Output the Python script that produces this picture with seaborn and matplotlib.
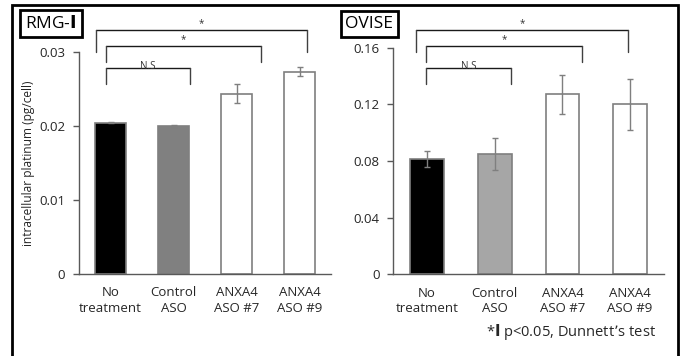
import matplotlib
matplotlib.use("Agg")
import matplotlib.pyplot as plt
import seaborn as sns
import pandas as pd
from matplotlib.patches import Rectangle

sns.set_theme(style="white")
plt.rcParams['font.family'] = ['Open Sans', 'DejaVu Sans']
plt.rcParams['mathtext.fontset'] = 'dejavusans'

categories = ["No\ntreatment", "Control\nASO", "ANXA4\nASO #7", "ANXA4\nASO #9"]
rmg_values = [0.0205, 0.0200, 0.0244, 0.0274]
rmg_errors = [0.0001, 0.0001, 0.00125, 0.0006]
ovise_values = [0.0814, 0.0850, 0.1270, 0.1200]
ovise_errors = [0.0054, 0.0115, 0.0138, 0.0178]
rmg_colors = ["#000000", "#808080", "#ffffff", "#ffffff"]
ovise_colors = ["#000000", "#a6a6a6", "#ffffff", "#ffffff"]
rmg_ticks = [0, 0.01, 0.02, 0.03]
rmg_ticklabels = ["0", "0.01", "0.02", "0.03"]
ovise_ticks = [0, 0.04, 0.08, 0.12, 0.16]
ovise_ticklabels = ["0", "0.04", "0.08", "0.12", "0.16"]
# brackets: (x_left, x_right, y_bar, y_leg_end, label)
rmg_brackets = [(-0.225, 3.12, 0.03298, 0.03008, "*"),
                (-0.07, 2.39, 0.03085, 0.02873, "*"),
                (-0.07, 1.26, 0.02783, 0.02567, "N.S")]
ovise_brackets = [(-0.16, 2.97, 0.1723, 0.1568, "*"),
                  (-0.01, 2.29, 0.1612, 0.1501, "*"),
                  (-0.01, 1.24, 0.1455, 0.1342, "N.S")]

W, H = 688, 356
fig = plt.figure(figsize=(W / 100, H / 100), dpi=100)


def px_axes(x0, y0, x1, y1):
    return fig.add_axes([x0 / W, 1 - y1 / H, (x1 - x0) / W, (y1 - y0) / H])


ax1 = px_axes(79, 52.3, 331, 274)
ax2 = px_axes(393.3, 47.7, 664, 274.3)

spine_col = "#595959"
edge_col = "#7f7f7f"
text_col = "#262626"

panels = [
    (ax1, rmg_values, rmg_errors, rmg_colors, rmg_ticks, rmg_ticklabels, (0, 0.03), rmg_brackets),
    (ax2, ovise_values, ovise_errors, ovise_colors, ovise_ticks, ovise_ticklabels, (0, 0.16), ovise_brackets),
]

for ax, vals, errs, cols, ticks, tlabels, ylim, brackets in panels:
    df = pd.DataFrame({"group": categories, "value": vals})
    sns.barplot(data=df, x="group", y="value", hue="group", palette=cols,
                legend=False, width=0.5, edgecolor=edge_col, linewidth=1.2,
                errorbar=None, ax=ax)
    ax.errorbar(range(len(vals)), vals, yerr=errs, fmt="none", ecolor=edge_col,
                elinewidth=1.0, capsize=2.5, capthick=1.0, zorder=5)
    ax.set_xlim(-0.5, 3.5)
    ax.set_ylim(*ylim)
    ax.set_yticks(ticks)
    ax.set_yticklabels(tlabels)
    ax.set_xlabel("")
    ax.set_ylabel("")
    for s in ["top", "right"]:
        ax.spines[s].set_visible(False)
    for s in ["left", "bottom"]:
        ax.spines[s].set_color(spine_col)
        ax.spines[s].set_linewidth(1.0)
    ax.tick_params(axis="y", which="both", left=True, length=4, width=1.0,
                   color=spine_col, labelsize=9.5, labelcolor=text_col, pad=6)
    ax.tick_params(axis="x", bottom=False, labelsize=9.5, labelcolor=text_col, pad=3)
    ax.set_facecolor("white")
    for xl, xr, yb, yl, lab in brackets:
        ax.plot([xl, xr], [yb, yb], color="#1a1a1a", lw=1.0, clip_on=False)
        ax.plot([xl, xl], [yb, yl], color="#404040", lw=1.0, clip_on=False)
        ax.plot([xr, xr], [yb, yl], color="#404040", lw=1.0, clip_on=False)
        off = 1.0 if lab == "*" else -2.5
        ax.annotate(lab, xy=((xl + xr) / 2, yb), xytext=(0, off), textcoords="offset points",
                    ha="center", va="bottom", fontsize=7, color="#333333",
                    annotation_clip=False)

ax1.set_ylabel("intracellular platinum (pg/cell)", fontsize=8.6, color=text_col, labelpad=3)

# outer frame
fig.add_artist(Rectangle((12 / W, -0.05), (678 - 12) / W, 1.05 - 5 / H,
                         transform=fig.transFigure, fill=False, edgecolor="black", lw=2.0))
# panel title boxes
fig.text(51 / W, 1 - 23.5 / H, "RMG-$\\mathbf{I}$", ha="center", va="center", fontsize=12.5,
         color="black",
         bbox=dict(boxstyle="square,pad=0.28", facecolor="white", edgecolor="black", lw=2.0))
fig.text(369.5 / W, 1 - 24 / H, "OVISE", ha="center", va="center", fontsize=12.5,
         color="black",
         bbox=dict(boxstyle="square,pad=0.28", facecolor="white", edgecolor="black", lw=2.0))
fig.text(486 / W, 1 - 332.5 / H, "*$\\mathbf{I}$ p<0.05, Dunnett\u2019s test", ha="left", va="center",
         fontsize=10.5, color=text_col)

fig.savefig("out.png", dpi=100, facecolor="white")
